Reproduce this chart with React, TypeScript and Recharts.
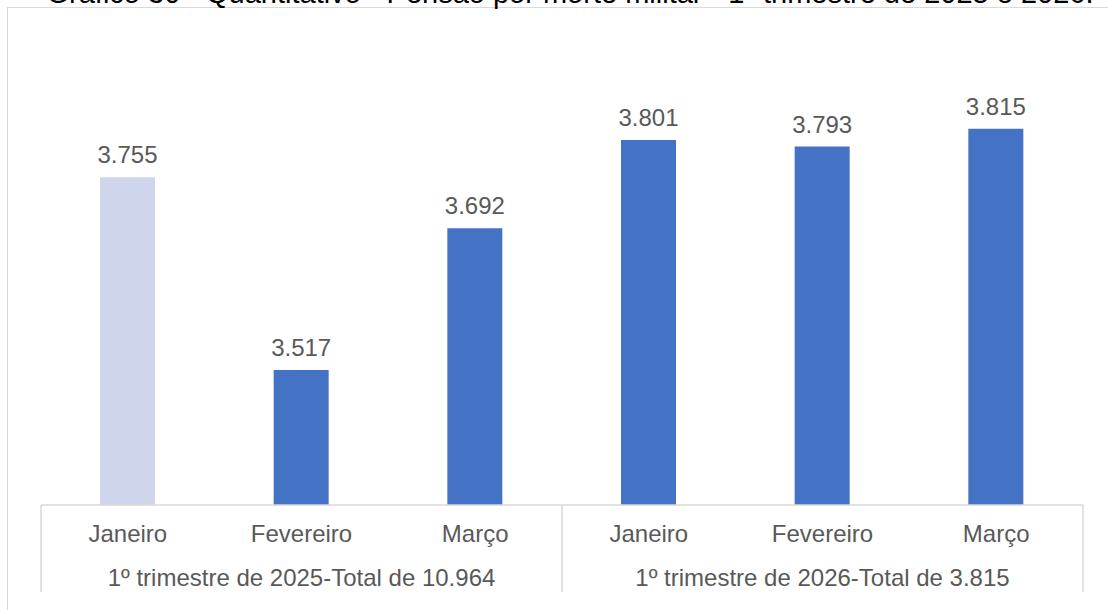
import React from 'react';
import { BarChart, Bar, XAxis, YAxis, LabelList, Cell } from 'recharts';

const months = ['Janeiro', 'Fevereiro', 'Março', 'Janeiro', 'Fevereiro', 'Março'];
const groups = ['1º trimestre de 2025-Total de 10.964', '1º trimestre de 2026-Total de 3.815'];
const values = [3755, 3517, 3692, 3801, 3793, 3815];
const barColors = ['#CFD5EA', '#4472C4', '#4472C4', '#4472C4', '#4472C4', '#4472C4'];
const title = 'Gráfico 30 - Quantitativo - Pensão por morte militar - 1º trimestre de 2025 e 2026.';

const data = months.map((m, i) => ({ key: `${m}-${i}`, month: m, value: values[i] }));

const W = 1108;
const H = 610;
const AXIS_H = 30;
const margin = { top: 60, right: 25, bottom: 105 - AXIS_H, left: 41 };
const band = (W - margin.left - margin.right) / months.length;
const axisY = H - 105;
const FONT = '"Liberation Sans", Arial, sans-serif';
const TEXT = '#595959';
const GRID = '#D9D9D9';
const FS = 24;

const fmt = (v: number) => v.toLocaleString('de-DE');

const Tick = (props: any) => {
  const { x, index } = props;
  const i = index as number;
  const els: any[] = [];
  els.push(
    <text key="m" x={x} y={axisY + 37} textAnchor="middle" fill={TEXT} fontSize={FS} fontFamily={FONT}>
      {months[i]}
    </text>
  );
  if (i === 1 || i === 4) {
    els.push(
      <text key="g" x={x} y={axisY + 81} textAnchor="middle" fill={TEXT} fontSize={FS} fontFamily={FONT}>
        {groups[i === 1 ? 0 : 1]}
      </text>
    );
  }
  if (i === 0 || i === 3) {
    els.push(<line key="l" x1={x - band / 2} x2={x - band / 2} y1={axisY} y2={592} stroke={GRID} strokeWidth={1.5} />);
  }
  if (i === months.length - 1) {
    els.push(<line key="r" x1={x + band / 2} x2={x + band / 2} y1={axisY} y2={592} stroke={GRID} strokeWidth={1.5} />);
  }
  return <g>{els}</g>;
};

const ValueLabel = (props: any) => {
  const { x, y, width, value } = props;
  return (
    <text x={x + width / 2} y={y - 14} textAnchor="middle" fill={TEXT} fontSize={FS} fontFamily={FONT}>
      {fmt(value)}
    </text>
  );
};

export default function App() {
  return (
    <div style={{ position: 'fixed', left: 0, top: 0, width: W, height: H, overflow: 'hidden', background: '#fff' }}>
      <div style={{ position: 'absolute', left: 7, top: 7, width: 1200, height: 700, border: `1px solid ${GRID}` }} />
      <svg style={{ position: 'absolute', left: 0, top: 0 }} width={W} height={20}>
        <text x={570} y={3} textAnchor="middle" fill="#000" fontSize={29} fontFamily={FONT}>
          {title}
        </text>
      </svg>
      <div style={{ position: 'absolute', left: 0, top: 0 }}>
        <BarChart width={W} height={H} data={data} margin={margin} barSize={55}>
          <XAxis
            dataKey="key"
            height={AXIS_H}
            axisLine={{ stroke: GRID, strokeWidth: 1.5 }}
            tickLine={false}
            tick={<Tick />}
            interval={0}
          />
          <YAxis hide domain={[3350, 3900]} allowDataOverflow />
          <Bar dataKey="value" isAnimationActive={false}>
            {data.map((d, i) => (
              <Cell key={d.key} fill={barColors[i]} />
            ))}
            <LabelList dataKey="value" content={<ValueLabel />} />
          </Bar>
        </BarChart>
      </div>
    </div>
  );
}
